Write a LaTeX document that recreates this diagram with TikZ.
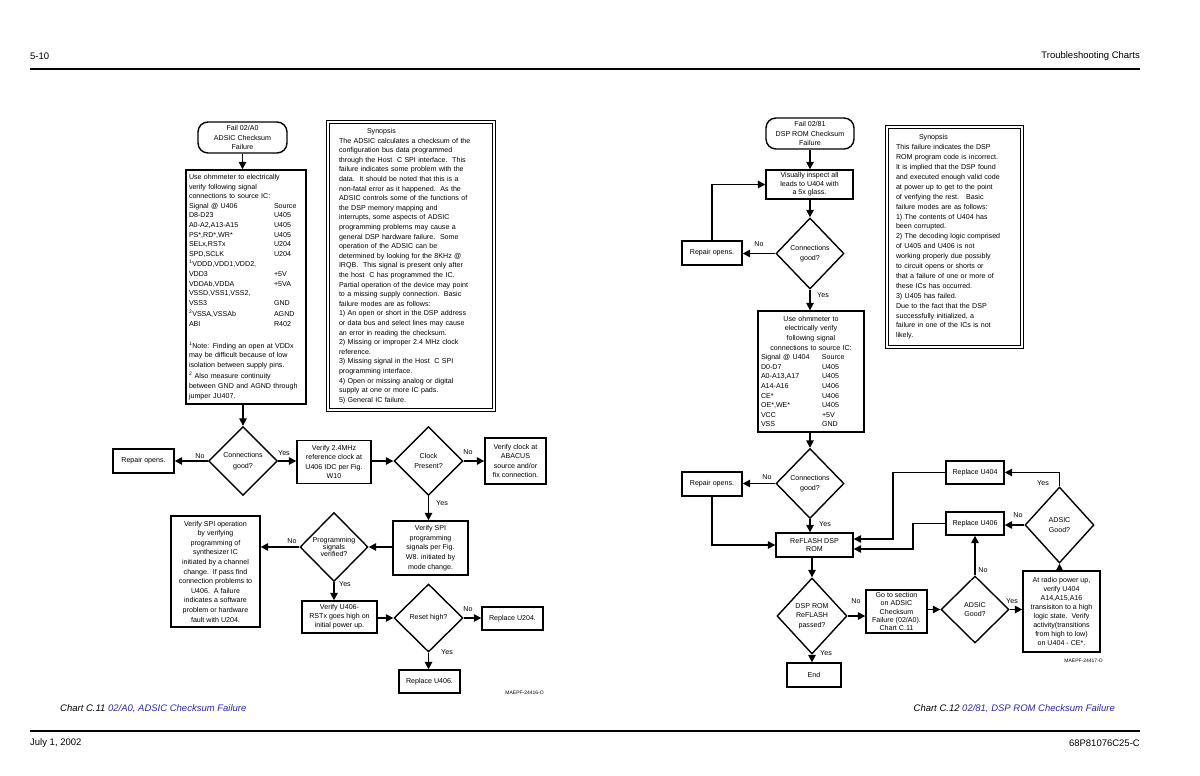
\documentclass[tikz,border=0pt]{standalone}
\usepackage{fontspec}
\setmainfont{Liberation Sans}
\usepackage{xcolor}
\usetikzlibrary{shapes.geometric,arrows.meta}

\newcommand\chartfont{\fontsize{7.1}{9.6}\selectfont}
\newcommand\codefont{\fontsize{5}{6}\selectfont}
\newcommand\pagefont{\fontsize{9.5}{11}\selectfont}
\newcommand\sigrow[3]{\makebox[#1][l]{#2}#3}
\definecolor{captionblue}{RGB}{40,40,170}

\tikzset{
  box/.style={draw, line width=1.4pt, inner sep=0pt, align=center, font=\chartfont},
  boxsize/.style 2 args={minimum width=#1pt, minimum height=#2pt},
  term/.style={box, rounded corners=10pt},
  decision/.style={box, shape=diamond},
  synbox/.style={draw, double, double distance=1.2pt, line width=1.4pt, inner sep=0pt, align=left, font=\chartfont},
  flow/.style={line width=1.6pt, -{Triangle[length=7.5pt,width=7.5pt]}},
  lbl/.style={font=\chartfont, inner sep=0pt},
  pagetext/.style={font=\pagefont, inner sep=0pt},
}

\begin{document}
\begin{tikzpicture}[x=1pt,y=-1pt]
    \useasboundingbox[fill=white] (0,0) rectangle (1200,776);

    % page header and footer
    \node[pagetext, anchor=west] (pnum) at (30,56) {5-10};
    \node[pagetext, anchor=east] (ptitle) at (1140,56) {Troubleshooting Charts};
    \coordinate (headl) at (30,69);
    \coordinate (headr) at (1140,69);
    \draw[line width=1.8pt] (headl) -- (headr);
    \node[pagetext, anchor=west, font=\pagefont\itshape] (cap1) at (60,709) {Chart C.11 \textcolor{captionblue}{02/A0, ADSIC Checksum Failure}};
    \node[pagetext, anchor=east, font=\pagefont\itshape] (cap2) at (1115,709) {Chart C.12 \textcolor{captionblue}{02/81, DSP ROM Checksum Failure}};
    \coordinate (footl) at (30,731);
    \coordinate (footr) at (1140,731);
    \draw[line width=1.8pt] (footl) -- (footr);
    \node[pagetext, anchor=west] (pdate) at (30,743) {July 1, 2002};
    \node[pagetext, anchor=east] (pdoc) at (1140,743) {68P81076C25-C};

    % chart C.11
    \node[term, boxsize={89}{31}] (fail1) at (242.5,137.5) {Fail 02/A0\\ADSIC Checksum\\Failure};
    \node[box, boxsize={120}{234}, text width=114pt, align=left] (chk1) at (246,287) {%
        Use ohmmeter to electrically\\
        verify following signal\\
        connections to source IC:\\
        \sigrow{85pt}{Signal @ U406}{Source}\\
        \sigrow{85pt}{D8-D23}{U405}\\
        \sigrow{85pt}{A0-A2,A13-A15}{U405}\\
        \sigrow{85pt}{PS*,RD*,WR*}{U405}\\
        \sigrow{85pt}{SELx,RSTx}{U204}\\
        \sigrow{85pt}{SPD,SCLK}{U204}\\[1pt]
        \textsuperscript{1}VDDD,VDD1,VDD2,\\
        \sigrow{85pt}{VDD3}{+5V}\\
        \sigrow{85pt}{VDDAb,VDDA}{+5VA}\\
        VSSD,VSS1,VSS2,\\
        \sigrow{85pt}{VSS3}{GND}\\[2pt]
        \sigrow{85pt}{\textsuperscript{2}VSSA,VSSAb}{AGND}\\
        \sigrow{85pt}{ABI}{R402}\\[12pt]
        \textsuperscript{1}Note: Finding an open at VDDx\\
        may be difficult because of low\\
        isolation between supply pins.\\[2pt]
        \textsuperscript{2} Also measure continuity\\
        between GND and AGND through\\
        jumper JU407.};
    \node[synbox, boxsize={166}{288}, text width=144pt] (syn1) at (411,266) {%
        \hspace*{28pt}Synopsis\\
        The ADSIC calculates a checksum of the\\
        configuration bus data programmed\\
        through the Host\ \ C SPI interface.\ \ This\\
        failure indicates some problem with the\\
        data.\ \ It should be noted that this is a\\
        non-fatal error as it happened.\ \ As the\\
        ADSIC controls some of the functions of\\
        the DSP memory mapping and\\
        interrupts, some aspects of ADSIC\\
        programming problems may cause a\\
        general DSP hardware failure.\ \ Some\\
        operation of the ADSIC can be\\
        determined by looking for the 8KHz @\\
        IRQB.\ \ This signal is present only after\\
        the host\ \ C has programmed the IC.\\
        Partial operation of the device may point\\
        to a missing supply connection.\ \ Basic\\
        failure modes are as follows:\\
        1) An open or short in the DSP address\\
        or data bus and select lines may cause\\
        an error in reading the checksum.\\
        2) Missing or improper 2.4 MHz clock\\
        reference.\\
        3) Missing signal in the Host\ \ C SPI\\
        programming interface.\\
        4) Open or missing analog or digital\\
        supply at one or more IC pads.\\
        5) General IC failure.};
    \node[decision, boxsize={69}{69}] (conn1) at (243,461) {Connections\\[1pt]good?};
    \node[box, boxsize={61}{24}] (rep1) at (143.5,461) {Repair opens.};
    \node[box, boxsize={74}{43}] (clk24) at (334,462) {Verify 2.4MHz\\reference clock at\\U406 IDC per Fig.\\W10};
    \node[decision, boxsize={69}{69}] (clkq) at (428.5,461) {Clock\\Present?};
    \node[box, boxsize={61}{46}] (vclk) at (515.5,461) {Verify clock at\\ABACUS\\source and/or\\fix connection.};
    \node[box, boxsize={75}{54}] (vspi) at (430.5,548) {Verify SPI\\programming\\signals per Fig.\\W8. initiated by\\mode change.};
    \node[decision, boxsize={68}{69}] (prog) at (334,547) {Programming\\[-2.3pt]signals\\[-2.3pt]verified?};
    \node[box, boxsize={89}{111}] (vspiop) at (215.5,571.5) {Verify SPI operation\\by verifying\\programming of\\synthesizer IC\\initiated by a channel\\change.\ \ If pass find\\connection problems to\\U406.\ \ A failure\\indicates a software\\problem or hardware\\fault with U204.};
    \node[box, boxsize={75}{32}] (vrst) at (339.5,617) {Verify U406-\\[-0.5pt]RSTx goes high on\\[-0.5pt]initial power up.};
    \node[decision, boxsize={69}{68}] (rsth) at (428.5,618) {Reset high?};
    \node[box, boxsize={61}{23}] (r204) at (512.5,618.5) {Replace U204.};
    \node[box, boxsize={61}{23}] (r406) at (429.5,681.5) {Replace U406.};
    \node[font=\codefont, inner sep=0pt, anchor=east] (code1) at (544,693) {MAEPF-24416-O};

    \draw[flow] (fail1.south) -- (fail1.south |- chk1.north);
    \draw[flow] (chk1.south -| conn1.north) -- (conn1.north);
    \draw[flow] (conn1.west) -- (conn1.west -| rep1.east);
    \draw[flow] (conn1.east) -- (conn1.east -| clk24.west);
    \draw[flow] (clk24.east |- clkq.west) -- (clkq.west);
    \draw[flow] (clkq.east) -- (clkq.east -| vclk.west);
    \draw[flow] (clkq.south) -- (clkq.south |- vspi.north);
    \draw[flow] (vspi.west |- prog.east) -- (prog.east);
    \draw[flow] (prog.west) -- (prog.west -| vspiop.east);
    \draw[flow] (prog.south) -- (prog.south |- vrst.north);
    \draw[flow] (vrst.east |- rsth.west) -- (rsth.west);
    \draw[flow] (rsth.east) -- (rsth.east -| r204.west);
    \draw[flow] (rsth.south) -- (rsth.south |- r406.north);

    % chart C.12
    \node[term, boxsize={88}{31}] (fail2) at (810,133.5) {Fail 02/81\\DSP ROM Checksum\\Failure};
    \node[box, boxsize={87}{29}] (vis) at (809.5,184.5) {Visually inspect all\\[-1pt]leads to U404 with\\[-1pt]a 5x glass.};
    \node[decision, boxsize={68}{71}] (conn2) at (810,253.5) {Connections\\good?};
    \node[box, boxsize={60}{24}] (rep2) at (712,253) {Repair opens.};
    \node[box, boxsize={106}{121}, text width=100pt, align=left] (ohm2) at (811,371.5) {%
        \makebox[100pt]{Use ohmmeter to}\\
        \makebox[100pt]{electrically verify}\\
        \makebox[100pt]{following signal}\\
        \makebox[100pt]{connections to source IC:}\\
        \sigrow{61pt}{Signal @ U404}{Source}\\
        \sigrow{61pt}{D0-D7}{U405}\\
        \sigrow{61pt}{A0-A13,A17}{U405}\\
        \sigrow{61pt}{A14-A16}{U406}\\
        \sigrow{61pt}{CE*}{U406}\\
        \sigrow{61pt}{OE*,WE*}{U405}\\
        \sigrow{61pt}{VCC}{+5V}\\
        \sigrow{61pt}{VSS}{GND}};
    \node[decision, boxsize={68}{70}] (conn3) at (810,483.5) {Connections\\good?};
    \node[box, boxsize={60}{24}] (rep3) at (712,484) {Repair opens.};
    \node[box, boxsize={77}{24}] (reflash) at (814.5,545) {ReFLASH DSP\\[-1pt]ROM};
    \node[decision, boxsize={70}{76}] (romq) at (812,616) {DSP ROM\\ReFLASH\\passed?};
    \node[box, boxsize={54}{24}] (endb) at (814,675) {End};
    \node[box, boxsize={61}{43}] (gosec) at (896.5,611.5) {Go to section\\[-1.3pt]on ADSIC\\[-1.3pt]Checksum\\[-1.3pt]Failure (02/A0).\\[-1.3pt]Chart C.11};
    \node[decision, boxsize={68}{67}] (adsic2) at (975,609.5) {ADSIC\\Good?};
    \node[box, boxsize={77}{81}] (radio) at (1061.5,611.5) {At radio power up,\\[-0.5pt]verify U404\\[-0.5pt]A14,A15,A16\\[-0.5pt]transisiton to a high\\[-0.5pt]logic state.\ \ Verify\\[-0.5pt]activity(transitions\\[-0.5pt]from high to low)\\[-0.5pt]on U404 - CE*.};
    \node[decision, boxsize={69}{76}] (adsic1) at (1059.5,525) {ADSIC\\Good?};
    \node[box, boxsize={58}{23}] (r404) at (975,472.5) {Replace U404};
    \node[box, boxsize={58}{23}] (r406b) at (975,523.5) {Replace U406};
    \node[synbox, boxsize={135}{220}, text width=117pt, font=\fontsize{7.1}{9.9}\selectfont] (syn2) at (954.5,237) {%
        \hspace*{23pt}Synopsis\\
        This failure indicates the DSP\\
        ROM program code is incorrect.\\
        It is implied that the DSP found\\
        and executed enough valid code\\
        at power up to get to the point\\
        of verifying the rest.\ \ \ Basic\\
        failure modes are as follows:\\
        1) The contents of U404 has\\
        been corrupted.\\
        2) The decoding logic comprised\\
        of U405 and U406 is not\\
        working properly due possibly\\
        to circuit opens or shorts or\\
        that a failure of one or more of\\
        these ICs has occurred.\\
        3) U405 has failed.\\
        Due to the fact that the DSP\\
        successfully initialized, a\\
        failure in one of the ICs is not\\
        likely.};
    \node[font=\codefont, inner sep=0pt, anchor=east] (code2) at (1103,661) {MAEPF-24417-O};
    \coordinate (bend404) at (893,539);
    \coordinate (bend406) at (913,549);

    \draw[flow] (fail2.south) -- (fail2.south |- vis.north);
    \draw[flow] (vis.south -| conn2.north) -- (conn2.north);
    \draw[flow] (conn2.west) -- (conn2.west -| rep2.east);
    \draw[flow] (rep2.north) |- (vis.west);
    \draw[flow] (conn2.south) -- (conn2.south |- ohm2.north);
    \draw[flow] (ohm2.south -| conn3.north) -- (conn3.north);
    \draw[flow] (conn3.west) -- (conn3.west -| rep3.east);
    \draw[flow] (conn3.south) -- (conn3.south |- reflash.north);
    \draw[flow] (rep3.south) |- (reflash.west);
    \draw[flow] (reflash.south -| romq.north) -- (romq.north);
    \draw[flow] (romq.east) -- (romq.east -| gosec.west);
    \draw[flow] (romq.south) -- (romq.south |- endb.north);
    \draw[flow] (gosec.east |- adsic2.west) -- (adsic2.west);
    \draw[flow] (adsic2.north) -- (adsic2.north |- r406b.south);
    \draw[flow] (adsic2.east) -- (adsic2.east -| radio.west);
    \draw[flow] (radio.north -| adsic1.south) -- (adsic1.south);
    \draw[flow] (adsic1.north) |- (r404.east);
    \draw[flow] (adsic1.west) -- (adsic1.west -| r406b.east);
    \draw[flow] (r404.west) -| (bend404) -- (bend404 -| reflash.east);
    \draw[flow] (r406b.west) -| (bend406) -- (bend406 -| reflash.east);

    \foreach [count=\i] \x/\y/\t in {200/456/No, 284/453/Yes, 468/452/No, 442/503/Yes,
        292/541/No, 345/584/Yes, 468/609/No, 447/652/Yes,
        759/244/No, 823/295/Yes, 767/477/No, 825/524/Yes, 856/601/No,
        983/570/No, 1012/601/Yes, 1043/483/Yes, 1018/515/No, 826/653/Yes}
        \node[lbl] (ans\i) at (\x,\y) {\t};
\end{tikzpicture}
\end{document}
